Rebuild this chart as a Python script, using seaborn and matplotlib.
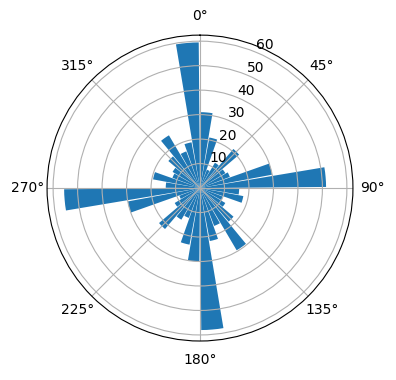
import numpy as np
import matplotlib
matplotlib.use("Agg")
import matplotlib.pyplot as plt
import seaborn as sns

# Direction bins (degrees, bin start) and counts
bin_starts_deg = [0, 10, 20, 30, 40, 50, 60, 70, 80,
                  90, 100, 110, 120, 130, 140, 150, 160, 170,
                  180, 190, 200, 210, 220, 230, 240, 250, 260,
                  270, 280, 290, 300, 310, 320, 330, 340, 350]
counts = [31, 21, 8, 12, 21, 12, 13, 30, 51.5,
          16, 18, 10, 12, 18, 29.5, 16.5, 22, 58,
          30, 23.5, 13, 15, 22, 12, 9, 30, 55.5,
          14, 19.5, 12, 13, 17, 25, 16, 19, 59.5]
bin_width_deg = 10

color = sns.color_palette("tab10")[0]

fig = plt.figure(figsize=(3.96, 3.80), dpi=100)
ax = fig.add_axes([0.1187, 0.1026, 0.7727, 0.805], projection="polar")
ax.set_theta_zero_location("N")
ax.set_theta_direction(-1)

theta = np.deg2rad(np.array(bin_starts_deg) + bin_width_deg / 2)
ax.bar(theta, counts, width=np.deg2rad(bin_width_deg) * 0.9, color=color, align="center")
ax.set_rticks([10, 20, 30, 40, 50, 60])
ax.set_rlabel_position(22.5)

fig.savefig("out.png", dpi=100)
